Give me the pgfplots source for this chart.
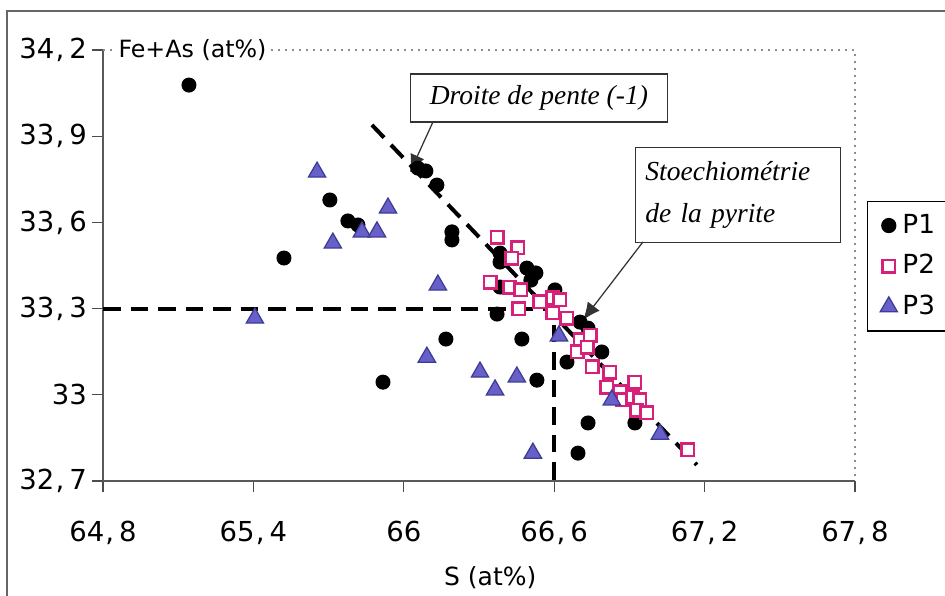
\documentclass[border=0pt]{standalone}
\usepackage{pgfplots}
\pgfplotsset{compat=1.18}
\usepackage{fontspec}
\setmainfont{DejaVu Sans}
\newfontfamily\annot{Liberation Serif}
\usetikzlibrary{arrows.meta}
\definecolor{ptwo}{RGB}{214,32,122}
\definecolor{pthree}{RGB}{104,96,200}
\definecolor{pthreeD}{RGB}{60,60,150}
\begin{document}
\begin{tikzpicture}
\useasboundingbox (0,0) rectangle (378pt,238.4pt);
\fill[white] (0,0) rectangle (378pt,238.4pt);
\draw[black!60, line width=0.6pt] (2.8pt,-5pt) rectangle (390pt,234pt);
\begin{axis}[
  at={(41.2pt,46pt)}, anchor=south west,
  scale only axis, width=300.8pt, height=172.4pt,
  xmin=64.8, xmax=67.8, ymin=32.7, ymax=34.2,
  xtick={64.8,65.4,66,66.6,67.2,67.8},
  ytick={32.7,33,33.3,33.6,33.9,34.2},
  axis x line*=bottom, axis y line*=left,
  axis line style={black!65, line width=0.8pt},
  tick align=outside, major tick length=4.4pt,
  tick style={black!70, line width=0.5pt},
  /pgf/number format/use comma,
  /pgf/number format/set decimal separator={\kern0.5pt,\kern2pt},
  /pgf/number format/assume math mode=true,
  ticklabel style={font=\fontsize{11}{13}\selectfont},
  xticklabel style={yshift=-8pt},
  yticklabel style={xshift=1.5pt},
  xlabel={S (at\%)},
  xlabel style={at={(axis description cs:0.515,0)}, anchor=center, yshift=-38.5pt, font=\fontsize{10}{12}\selectfont},
  clip=false,
  legend style={at={(1.016,0.6497)}, anchor=north west, draw=black, line width=0.5pt,
    font=\fontsize{10.5}{12}\selectfont, row sep=3pt, inner xsep=5pt, inner ysep=3pt},
  legend cell align=left,
]
\draw[black!45, dotted, line width=0.8pt] (rel axis cs:0,1) -- (rel axis cs:1,1) -- (rel axis cs:1,0);

\addplot[only marks, mark=*, mark size=2.8pt, draw=black, fill=black] coordinates {
(65.143,34.078) (65.522,33.476) (65.705,33.678) (65.777,33.605) (65.817,33.591)
(65.917,33.044) (66.056,33.789) (66.088,33.779) (66.132,33.730) (66.192,33.567)
(66.192,33.539) (66.168,33.194) (66.372,33.281) (66.384,33.493) (66.384,33.462)
(66.491,33.441) (66.527,33.424) (66.507,33.399) (66.384,33.375) (66.471,33.194)
(66.531,33.051) (66.603,33.365) (66.703,33.253) (66.735,33.232) (66.790,33.149)
(66.651,33.114) (66.735,32.902) (66.922,32.902) (66.695,32.797)
};
\addlegendentry{P1}
\addplot[only marks, mark=square*, mark size=2.5pt, mark options={draw=ptwo, fill=white, line width=1pt}] coordinates {
(66.372,33.549) (66.455,33.511) (66.431,33.476) (66.344,33.392) (66.423,33.375)
(66.467,33.365) (66.459,33.299) (66.543,33.323) (66.595,33.337) (66.623,33.330)
(66.595,33.285) (66.651,33.267) (66.703,33.191) (66.743,33.208) (66.691,33.149)
(66.731,33.166) (66.751,33.097) (66.822,33.079) (66.810,33.027) (66.862,33.010)
(66.922,33.044) (66.874,32.982) (66.914,32.992) (66.942,32.982) (66.930,32.947)
(66.970,32.937) (67.133,32.808)
};
\addlegendentry{P2}
\addplot[only marks, mark=triangle*, mark size=4pt, mark options={draw=pthreeD, fill=pthree, line width=0.5pt}] coordinates {
(65.654,33.775) (65.937,33.650) (65.717,33.528) (65.833,33.567) (65.893,33.567)
(66.136,33.382) (65.406,33.267) (66.092,33.131) (66.304,33.079) (66.364,33.017)
(66.451,33.062) (66.515,32.797) (66.619,33.205) (66.830,32.982) (67.022,32.863)
};
\addlegendentry{P3}

\addplot[forget plot, black, line width=1.6pt, dash pattern=on 7pt off 4pt] coordinates {(64.8,33.3) (66.6,33.3) (66.6,32.7)};
\addplot[forget plot, black, line width=1.6pt, dash pattern=on 7pt off 4pt] coordinates {(65.873,33.939) (67.169,32.756)};

\node[anchor=west, fill=white, inner sep=1pt, font=\fontsize{9.5}{11}\selectfont] at (rel axis cs:0,1) [xshift=5pt] {Fe+As (at\%)};

\node[draw=black!80, fill=white, line width=0.5pt, minimum width=102.8pt, minimum height=19.2pt, inner sep=0pt,
  font=\annot\itshape\fontsize{11}{13}\selectfont] at (axis cs:66.539,34.033) {Droite de pente (-1)};
\draw[black!80, line width=0.5pt, -{Latex[length=7pt,width=6pt]}] (axis cs:66.116,33.949) -- (axis cs:66.025,33.775);

\node[draw=black!80, fill=white, line width=0.5pt, minimum width=82pt, minimum height=38pt, text width=74pt, align=left, inner xsep=4pt,
  font=\annot\itshape\fontsize{11}{17}\selectfont] at (axis cs:67.333,33.695) {Stoechiométrie\\de la pyrite};
\draw[black!80, line width=0.5pt, -{Latex[length=7pt,width=6pt]}] (axis cs:66.954,33.532) -- (axis cs:66.715,33.260);
\end{axis}
\end{tikzpicture}
\end{document}
